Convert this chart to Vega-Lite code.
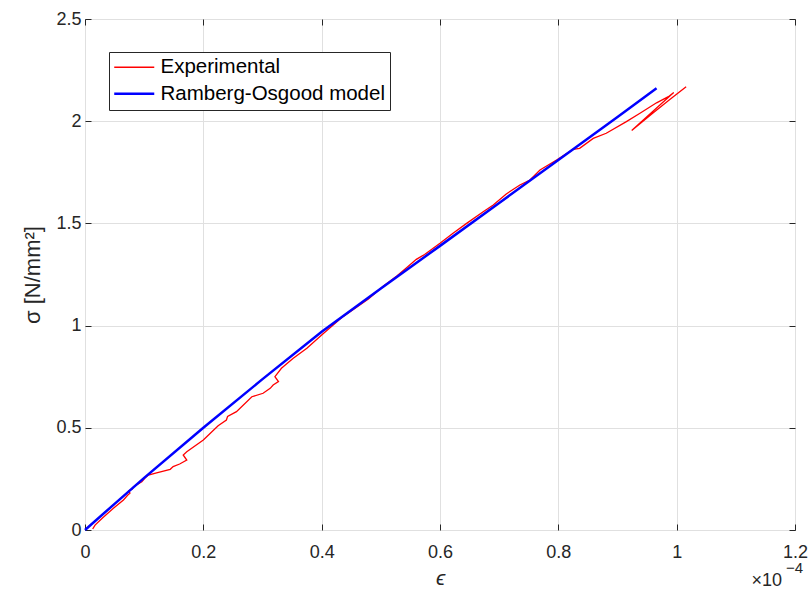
{
  "$schema": "https://vega.github.io/schema/vega-lite/v6.json",
  "width": 710,
  "height": 511,
  "autosize": {"type": "none"},
  "padding": {"left": 85, "top": 19, "right": 16, "bottom": 60},
  "background": "white",
  "config": {
    "font": "Liberation Sans",
    "view": {"stroke": "#262626", "strokeWidth": 1},
    "axis": {
      "domain": false,
      "grid": true,
      "gridColor": "#e0e0e0",
      "gridWidth": 1,
      "tickColor": "#262626",
      "tickSize": -6,
      "labelFlush": false,
      "labelColor": "#262626",
      "labelFontSize": 18,
      "labelFont": "Liberation Sans",
      "titleColor": "#262626",
      "titleFont": "Liberation Sans",
      "titleFontWeight": "normal"
    }
  },
  "datasets": {
    "exp": [
      {"i": 0, "x": 0.013, "y": 0.005, "series": "Experimental"},
      {"i": 1, "x": 0.017, "y": 0.024, "series": "Experimental"},
      {"i": 2, "x": 0.03, "y": 0.06, "series": "Experimental"},
      {"i": 3, "x": 0.048, "y": 0.106, "series": "Experimental"},
      {"i": 4, "x": 0.065, "y": 0.147, "series": "Experimental"},
      {"i": 5, "x": 0.072, "y": 0.17, "series": "Experimental"},
      {"i": 6, "x": 0.076, "y": 0.18, "series": "Experimental"},
      {"i": 7, "x": 0.074, "y": 0.192, "series": "Experimental"},
      {"i": 8, "x": 0.08, "y": 0.2, "series": "Experimental"},
      {"i": 9, "x": 0.082, "y": 0.212, "series": "Experimental"},
      {"i": 10, "x": 0.096, "y": 0.236, "series": "Experimental"},
      {"i": 11, "x": 0.101, "y": 0.253, "series": "Experimental"},
      {"i": 12, "x": 0.107, "y": 0.269, "series": "Experimental"},
      {"i": 13, "x": 0.121, "y": 0.28, "series": "Experimental"},
      {"i": 14, "x": 0.144, "y": 0.297, "series": "Experimental"},
      {"i": 15, "x": 0.149, "y": 0.31, "series": "Experimental"},
      {"i": 16, "x": 0.16, "y": 0.323, "series": "Experimental"},
      {"i": 17, "x": 0.172, "y": 0.342, "series": "Experimental"},
      {"i": 18, "x": 0.166, "y": 0.367, "series": "Experimental"},
      {"i": 19, "x": 0.172, "y": 0.383, "series": "Experimental"},
      {"i": 20, "x": 0.2, "y": 0.44, "series": "Experimental"},
      {"i": 21, "x": 0.225, "y": 0.51, "series": "Experimental"},
      {"i": 22, "x": 0.239, "y": 0.538, "series": "Experimental"},
      {"i": 23, "x": 0.241, "y": 0.556, "series": "Experimental"},
      {"i": 24, "x": 0.256, "y": 0.579, "series": "Experimental"},
      {"i": 25, "x": 0.282, "y": 0.652, "series": "Experimental"},
      {"i": 26, "x": 0.301, "y": 0.669, "series": "Experimental"},
      {"i": 27, "x": 0.313, "y": 0.693, "series": "Experimental"},
      {"i": 28, "x": 0.318, "y": 0.709, "series": "Experimental"},
      {"i": 29, "x": 0.327, "y": 0.726, "series": "Experimental"},
      {"i": 30, "x": 0.321, "y": 0.75, "series": "Experimental"},
      {"i": 31, "x": 0.332, "y": 0.791, "series": "Experimental"},
      {"i": 32, "x": 0.352, "y": 0.84, "series": "Experimental"},
      {"i": 33, "x": 0.375, "y": 0.889, "series": "Experimental"},
      {"i": 34, "x": 0.4, "y": 0.954, "series": "Experimental"},
      {"i": 35, "x": 0.436, "y": 1.044, "series": "Experimental"},
      {"i": 36, "x": 0.479, "y": 1.13, "series": "Experimental"},
      {"i": 37, "x": 0.504, "y": 1.192, "series": "Experimental"},
      {"i": 38, "x": 0.527, "y": 1.243, "series": "Experimental"},
      {"i": 39, "x": 0.543, "y": 1.282, "series": "Experimental"},
      {"i": 40, "x": 0.56, "y": 1.324, "series": "Experimental"},
      {"i": 41, "x": 0.574, "y": 1.348, "series": "Experimental"},
      {"i": 42, "x": 0.6, "y": 1.403, "series": "Experimental"},
      {"i": 43, "x": 0.622, "y": 1.452, "series": "Experimental"},
      {"i": 44, "x": 0.645, "y": 1.5, "series": "Experimental"},
      {"i": 45, "x": 0.673, "y": 1.557, "series": "Experimental"},
      {"i": 46, "x": 0.69, "y": 1.59, "series": "Experimental"},
      {"i": 47, "x": 0.712, "y": 1.644, "series": "Experimental"},
      {"i": 48, "x": 0.735, "y": 1.688, "series": "Experimental"},
      {"i": 49, "x": 0.752, "y": 1.712, "series": "Experimental"},
      {"i": 50, "x": 0.769, "y": 1.761, "series": "Experimental"},
      {"i": 51, "x": 0.797, "y": 1.81, "series": "Experimental"},
      {"i": 52, "x": 0.825, "y": 1.862, "series": "Experimental"},
      {"i": 53, "x": 0.836, "y": 1.867, "series": "Experimental"},
      {"i": 54, "x": 0.859, "y": 1.916, "series": "Experimental"},
      {"i": 55, "x": 0.881, "y": 1.941, "series": "Experimental"},
      {"i": 56, "x": 0.915, "y": 1.998, "series": "Experimental"},
      {"i": 57, "x": 0.938, "y": 2.039, "series": "Experimental"},
      {"i": 58, "x": 0.966, "y": 2.09, "series": "Experimental"},
      {"i": 59, "x": 0.986, "y": 2.12, "series": "Experimental"},
      {"i": 60, "x": 0.995, "y": 2.14, "series": "Experimental"},
      {"i": 61, "x": 0.924, "y": 1.954, "series": "Experimental"},
      {"i": 62, "x": 0.96, "y": 2.04, "series": "Experimental"},
      {"i": 63, "x": 0.99, "y": 2.11, "series": "Experimental"},
      {"i": 64, "x": 1.016, "y": 2.169, "series": "Experimental"}
    ],
    "model": [
      {"i": 0, "x": 0, "y": 0, "series": "Ramberg-Osgood model"},
      {"i": 1, "x": 0.05, "y": 0.128, "series": "Ramberg-Osgood model"},
      {"i": 2, "x": 0.1, "y": 0.255, "series": "Ramberg-Osgood model"},
      {"i": 3, "x": 0.2, "y": 0.5, "series": "Ramberg-Osgood model"},
      {"i": 4, "x": 0.3, "y": 0.738, "series": "Ramberg-Osgood model"},
      {"i": 5, "x": 0.4, "y": 0.97, "series": "Ramberg-Osgood model"},
      {"i": 6, "x": 0.5, "y": 1.182, "series": "Ramberg-Osgood model"},
      {"i": 7, "x": 0.6, "y": 1.39, "series": "Ramberg-Osgood model"},
      {"i": 8, "x": 0.7, "y": 1.6, "series": "Ramberg-Osgood model"},
      {"i": 9, "x": 0.8, "y": 1.81, "series": "Ramberg-Osgood model"},
      {"i": 10, "x": 0.9, "y": 2.02, "series": "Ramberg-Osgood model"},
      {"i": 11, "x": 0.966, "y": 2.161, "series": "Ramberg-Osgood model"}
    ]
  },
  "layer": [
    {
      "data": {"name": "exp"},
      "mark": {"type": "line"},
      "encoding": {
        "x": {"field": "x", "type": "quantitative", "scale": {"domain": [0, 1.2], "nice": false},
              "axis": {"values": [0, 0.2, 0.4, 0.6, 0.8, 1, 1.2], "format": "~g", "title": "ϵ", "titleFontStyle": "italic", "titleFontSize": 21, "labelPadding": 19, "titlePadding": 6}},
        "y": {"field": "y", "type": "quantitative", "scale": {"domain": [0, 2.5], "nice": false},
              "axis": {"values": [0, 0.5, 1, 1.5, 2, 2.5], "format": "~g", "title": "σ [N/mm²]", "titleFontSize": 22, "labelPadding": 10, "titlePadding": 11}},
        "order": {"field": "i", "type": "quantitative"},
        "color": {"field": "series", "type": "nominal",
                  "scale": {"domain": ["Experimental", "Ramberg-Osgood model"], "range": ["#ff0000", "#0000ff"]},
                  "legend": {"title": null, "orient": "none", "legendX": 24, "legendY": 33,
                             "symbolType": "M-1.67,0H5", "symbolSize": 144, "labelOffset": 26,
                             "labelFontSize": 20.5, "labelColor": "#000000", "padding": 5, "rowPadding": 5.5,
                             "fillColor": "#ffffff", "strokeColor": "#262626", "labelLimit": 400}},
        "strokeWidth": {"field": "series", "type": "nominal",
                        "scale": {"domain": ["Experimental", "Ramberg-Osgood model"], "range": [1.3, 2.5]},
                        "legend": {"title": null, "orient": "none", "legendX": 24, "legendY": 33,
                             "symbolType": "M-1.67,0H5", "symbolSize": 144, "labelOffset": 26,
                             "labelFontSize": 20.5, "labelColor": "#000000", "padding": 5, "rowPadding": 5.5,
                             "fillColor": "#ffffff", "strokeColor": "#262626", "labelLimit": 400}}
      }
    },
    {
      "data": {"name": "model"},
      "mark": {"type": "line"},
      "encoding": {
        "x": {"field": "x", "type": "quantitative", "axis": null},
        "y": {"field": "y", "type": "quantitative", "axis": null},
        "order": {"field": "i", "type": "quantitative"},
        "color": {"field": "series", "type": "nominal"},
        "strokeWidth": {"field": "series", "type": "nominal"}
      }
    },
    {
      "data": {"name": "model"},
      "mark": {"type": "point", "opacity": 0},
      "encoding": {
        "x": {"field": "x", "type": "quantitative", "axis": {"orient": "top", "labels": false, "grid": false, "title": null, "values": [0, 0.2, 0.4, 0.6, 0.8, 1, 1.2]}},
        "y": {"field": "y", "type": "quantitative", "axis": {"orient": "right", "labels": false, "grid": false, "title": null, "values": [0, 0.5, 1, 1.5, 2, 2.5]}}
      }
    },
    {
      "data": {"values": [{"t": "×10", "s": "−4"}]},
      "mark": {"type": "text", "align": "right", "baseline": "alphabetic", "dx": -13, "dy": 56, "fontSize": 18, "color": "#262626"},
      "encoding": {
        "x": {"datum": 1.2, "type": "quantitative", "axis": null},
        "y": {"datum": 0, "type": "quantitative", "axis": null},
        "text": {"field": "t"}
      }
    },
    {
      "data": {"values": [{"t": "×10", "s": "−4"}]},
      "mark": {"type": "text", "align": "right", "baseline": "alphabetic", "dx": 8, "dy": 43, "fontSize": 15, "color": "#262626"},
      "encoding": {
        "x": {"datum": 1.2, "type": "quantitative", "axis": null},
        "y": {"datum": 0, "type": "quantitative", "axis": null},
        "text": {"field": "s"}
      }
    }
  ],
  "resolve": {"axis": {"x": "independent", "y": "independent"}}
}
